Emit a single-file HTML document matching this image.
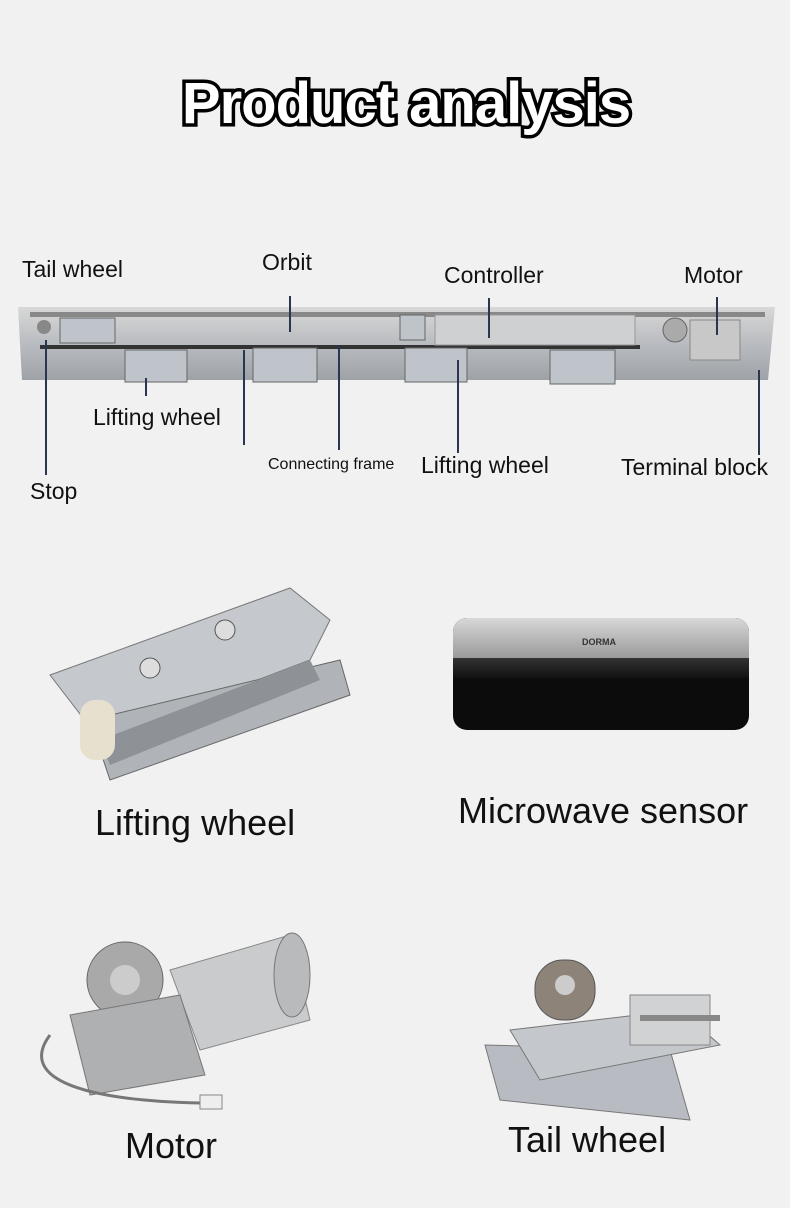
<!DOCTYPE html>
<html><head><style>
body{margin:0;width:790px;height:1208px;background:#f1f1f1;position:relative;overflow:hidden;font-family:"Liberation Sans",sans-serif;}
.t{position:absolute;white-space:nowrap;color:#111;}
.title{position:absolute;left:0;width:812px;text-align:center;top:70px;font-size:58px;font-weight:bold;color:#fff;-webkit-text-stroke:7px #000;paint-order:stroke fill;letter-spacing:-1px}
.l{position:absolute;background:#2a3550;width:1.5px}
</style></head><body>
<div class="title">Product analysis</div>

<div class="t" style="left:22px;top:256px;font-size:23px">Tail wheel</div>
<div class="t" style="left:262px;top:249px;font-size:23px">Orbit</div>
<div class="t" style="left:444px;top:262px;font-size:23px">Controller</div>
<div class="t" style="left:684px;top:262px;font-size:23px">Motor</div>
<div class="t" style="left:93px;top:404px;font-size:23px">Lifting wheel</div>
<div class="t" style="left:268px;top:456px;font-size:16px">Connecting frame</div>
<div class="t" style="left:421px;top:452px;font-size:23px">Lifting wheel</div>
<div class="t" style="left:621px;top:454px;font-size:23px">Terminal block</div>
<div class="t" style="left:30px;top:478px;font-size:23px">Stop</div>

<svg style="position:absolute;left:0;top:0" width="790" height="520">
<defs><linearGradient id="g" x1="0" y1="0" x2="0" y2="1"><stop offset="0" stop-color="#d8d8d8"/><stop offset=".5" stop-color="#b9bcc0"/><stop offset="1" stop-color="#9ea2a6"/></linearGradient></defs>
<polygon points="18,307 775,307 768,380 22,380" fill="url(#g)"/>
<rect x="30" y="312" width="735" height="5" fill="#888"/>
<rect x="40" y="345" width="600" height="4" fill="#333"/>
<rect x="435" y="315" width="200" height="30" fill="#cfd0d2" stroke="#999"/>
<rect x="690" y="320" width="50" height="40" fill="#c8c8c8" stroke="#888"/>
<circle cx="675" cy="330" r="12" fill="#aaa" stroke="#666"/>
<g fill="#bfc4ca" stroke="#666">
<rect x="125" y="350" width="62" height="32"/><rect x="253" y="348" width="64" height="34"/>
<rect x="405" y="348" width="62" height="34"/><rect x="550" y="350" width="65" height="34"/>
<rect x="60" y="318" width="55" height="25"/><rect x="400" y="315" width="25" height="25"/>
</g>
<circle cx="44" cy="327" r="7" fill="#888"/>
</svg>
<div class="l" style="left:289px;top:296px;height:36px"></div>
<div class="l" style="left:488px;top:298px;height:40px"></div>
<div class="l" style="left:716px;top:297px;height:38px"></div>
<div class="l" style="left:45px;top:340px;height:135px"></div>
<div class="l" style="left:145px;top:378px;height:18px"></div>
<div class="l" style="left:243px;top:350px;height:95px"></div>
<div class="l" style="left:338px;top:345px;height:105px"></div>
<div class="l" style="left:457px;top:360px;height:93px"></div>
<div class="l" style="left:758px;top:370px;height:85px"></div>

<svg style="position:absolute;left:40px;top:580px" width="320" height="220">
<polygon points="10,95 250,8 290,40 270,80 60,160" fill="#c5c8cc" stroke="#777"/>
<polygon points="50,140 300,80 310,115 70,200" fill="#b0b4b9" stroke="#666"/>
<polygon points="60,160 270,80 280,100 70,185" fill="#8e9297"/>
<rect x="40" y="120" width="35" height="60" rx="15" fill="#e8e0cf"/>
<circle cx="185" cy="50" r="10" fill="#ddd" stroke="#555"/><circle cx="110" cy="88" r="10" fill="#ddd" stroke="#555"/>
</svg>
<div class="t" style="left:95px;top:802px;font-size:36px">Lifting wheel</div>

<div style="position:absolute;left:453px;top:618px;width:296px;height:112px;border-radius:14px;background:#0c0c0c;overflow:hidden">
<div style="height:40px;background:linear-gradient(#d8d8d8,#9a9a9a)"></div>
<div style="height:20px;background:linear-gradient(#333,#111)"></div>
</div>
<div class="t" style="left:582px;top:637px;font-size:9px;font-weight:bold;color:#333">DORMA</div>
<div class="t" style="left:458px;top:790px;font-size:36px">Microwave sensor</div>

<svg style="position:absolute;left:30px;top:925px" width="290" height="200">
<polygon points="140,45 260,10 280,95 170,125" fill="#c9cbcd" stroke="#888"/>
<ellipse cx="262" cy="50" rx="18" ry="42" fill="#b8babc" stroke="#777"/>
<circle cx="95" cy="55" r="38" fill="#a9a9a9" stroke="#666"/>
<circle cx="95" cy="55" r="15" fill="#ccc"/>
<polygon points="40,90 150,70 175,150 60,170" fill="#aeb0b2" stroke="#777"/>
<path d="M20,110 C-10,150 40,175 170,178" stroke="#777" stroke-width="3" fill="none"/>
<rect x="170" y="170" width="22" height="14" fill="#eee" stroke="#888"/>
</svg>
<div class="t" style="left:125px;top:1125px;font-size:36px">Motor</div>

<svg style="position:absolute;left:480px;top:950px" width="270" height="175">
<polygon points="5,95 190,100 210,170 20,150" fill="#b8bcc2" stroke="#777"/>
<polygon points="30,80 200,60 240,95 60,130" fill="#c4c7cb" stroke="#777"/>
<rect x="150" y="45" width="80" height="50" fill="#d0d2d4" stroke="#888"/>
<rect x="55" y="10" width="60" height="60" rx="28" fill="#8e8378" stroke="#555"/>
<circle cx="85" cy="35" r="10" fill="#ccc"/>
<rect x="160" y="65" width="80" height="6" fill="#888"/>
</svg>
<div class="t" style="left:508px;top:1119px;font-size:36px">Tail wheel</div>
</body></html>
